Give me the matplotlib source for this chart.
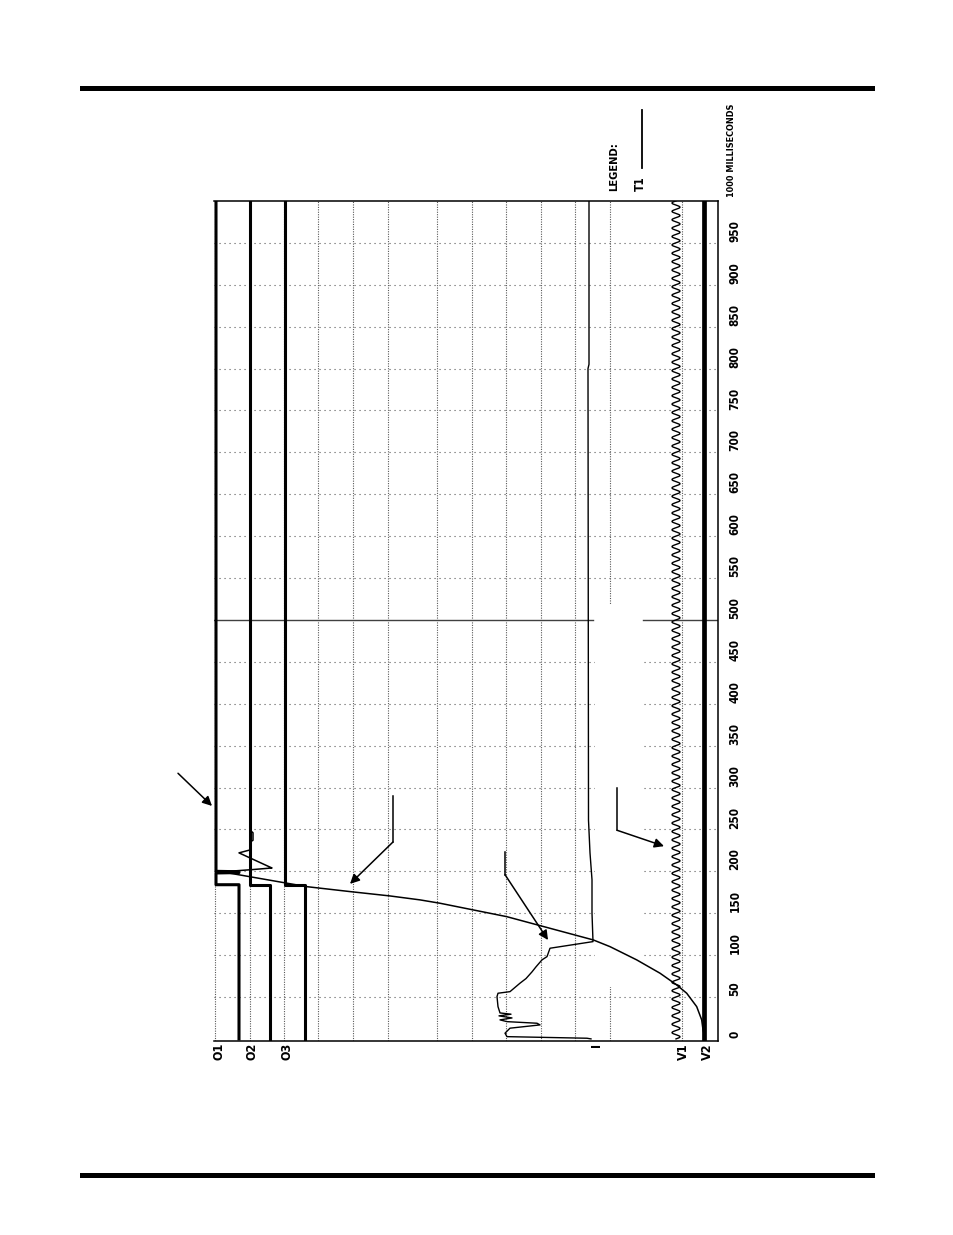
import numpy as np
import matplotlib.pyplot as plt
from matplotlib.lines import Line2D

# time axis (ms) runs up the page, trace offsets run across (0 = left edge of grid)
time_ticks = list(range(0, 1001, 50))
tick_labels = [str(t) for t in time_ticks]
tick_labels[-1] = '1000 MILLISECONDS'

grid_cols = [1, 36, 70, 104, 139, 174, 223, 258, 292, 327, 361, 396, 468]
grid_rows = [t for t in time_ticks if t not in (0, 500, 1000)]

channel_names = ['O1', 'O2', 'O3', 'I', 'V1', 'V2']
channel_pos = [5, 38, 73, 383, 469, 493]

# contact channels
o1_t = [0, 184, 184, 198, 198.5, 199.5, 200, 1000]
o1_u = [25, 25, 2, 2, 25, 24, 2, 2]
o2_t = [0, 184, 184, 1000]
o2_u = [56, 56, 36, 36]
o3_t = [0, 184, 184, 1000]
o3_u = [91, 91, 71, 71]

# coil current
i_t = [0, 0.8, 2.7, 6.8, 12.8, 16.7, 18.7, 20.6, 22.7, 25, 27.5, 29.5, 31, 38.5,
       50.5, 54.5, 56.4, 66.5, 72, 80, 86, 94.3, 98.2, 108.2, 116.1, 150, 190,
       222, 261, 800, 805, 1000]
i_u = [377, 373, 293, 291, 296, 326, 323, 293, 286, 298, 285, 297, 286, 284,
       283, 284, 296, 306, 312, 318, 322, 328, 333, 336, 379, 378, 378,
       376, 374.5, 374, 375, 375]

# contact travel, with overtravel and rebound before settling
tr_t = [0, 6, 11, 22.7, 38.5, 54.5, 64.4, 78.4, 94.3, 110.1, 118.1, 145.9,
        161.9, 165.9, 170.6, 175.8, 181.7, 197.7, 199.5, 202, 204, 205, 222,
        225.5, 235, 237, 246, 249, 1000]
tr_u = [490, 490, 489, 487.7, 482.7, 472.7, 462.7, 446, 422.7, 396, 379.3, 292.7,
        226, 206, 176, 136, 92.7, 16, 9, 38, 58, 56, 25,
        36, 36, 39, 39, 36, 36]

v1_center = 462
v1_amp = 4
v1_period = 10
v2_u = 490

# annotation leaders (trace units, ms)
leaders = [
    ([-36, -2], [317, 278]),
    ([179, 179, 136], [290, 235, 185]),
    ([291, 291, 334], [223, 196, 118]),
    ([403, 403, 450], [300, 249, 230]),
]

fig = plt.figure(figsize=(9.54, 12.35), dpi=100)
ax = fig.add_axes([214 / 954, 194 / 1235, 504 / 954, 840.5 / 1235])
ax.set_xlim(0, 504)
ax.set_ylim(-2.5, 1000.5)
ax.set_xticks([])
ax.set_yticks([])
ax.spines['left'].set_visible(False)
for s in ['top', 'right', 'bottom']:
    ax.spines[s].set_linewidth(1.1)

# dotted grid
for g in grid_cols:
    ax.axvline(g, color='0.35', lw=0.8, ls=(0, (1, 1.2)), zorder=1)
for r in grid_rows:
    ax.axhline(r, color='0.35', lw=0.8, ls=(0, (1, 3.5)), zorder=1)
# 500 ms cursor
ax.plot([0, 379], [500, 500], color='0.25', lw=1.0, zorder=2)
ax.plot([429, 504], [500, 500], color='0.25', lw=1.0, zorder=2)
# whited-out patch from the scan
ax.fill_between([381, 428], 62, 518, color='white', zorder=1.5, lw=0)

ax.plot(o1_u, o1_t, color='black', lw=2.2, zorder=4)
ax.plot(o2_u, o2_t, color='black', lw=2.2, zorder=4)
ax.plot(o3_u, o3_t, color='black', lw=2.2, zorder=4)
ax.plot(i_u, i_t, color='black', lw=1.0, zorder=4)
ax.plot(tr_u, tr_t, color='black', lw=1.1, zorder=4)

v1_t = np.arange(0, 1000.25, 0.25)
v1_u = v1_center + v1_amp * np.sin(2 * np.pi * v1_t / v1_period)
ax.plot(v1_u, v1_t, color='black', lw=1.0, zorder=4)
ax.plot([v2_u, v2_u], [-2.5, 1000.5], color='black', lw=3.4, zorder=4)

for xs, ys in leaders:
    ax.plot(xs[:-1], ys[:-1], color='black', lw=1.1, clip_on=False, zorder=5)
    ax.annotate('', xy=(xs[-1], ys[-1]), xytext=(xs[-2], ys[-2]),
                arrowprops=dict(arrowstyle='-|>', color='black', lw=1.1,
                                mutation_scale=14, shrinkA=0, shrinkB=0),
                annotation_clip=False, zorder=5)

font = dict(family=['DejaVu Sans'], stretch='condensed',
            weight='bold', color='black')

for t, lab in zip(time_ticks, tick_labels):
    if t == 1000:
        ax.text(518, 1004.5, lab, rotation=90, ha='center', va='bottom',
                fontsize=6.5, clip_on=False, **font)
    else:
        ax.text(521, t + 1, lab, rotation=90, ha='center', va='bottom',
                fontsize=8.5, clip_on=False, **font)

for name, pos in zip(channel_names, channel_pos):
    ax.text(pos, -5, name, rotation=90, ha='center', va='top',
            fontsize=9, clip_on=False, **font)

# legend
ax.text(400, 1012, 'LEGEND:', rotation=90, ha='center', va='bottom',
        fontsize=8, clip_on=False, **font)
ax.text(426, 1012, 'T1', rotation=90, ha='center', va='bottom',
        fontsize=8.5, clip_on=False, **font)
ax.plot([428, 428], [1039, 1108], color='black', lw=1.3, clip_on=False)

# page rules
fig.add_artist(Line2D([82 / 954, 872 / 954], [1 - 88 / 1235] * 2, color='black', lw=3.6))
fig.add_artist(Line2D([82 / 954, 872 / 954], [1 - 1175 / 1235] * 2, color='black', lw=3.6))

fig.savefig('out.png', dpi=100)
